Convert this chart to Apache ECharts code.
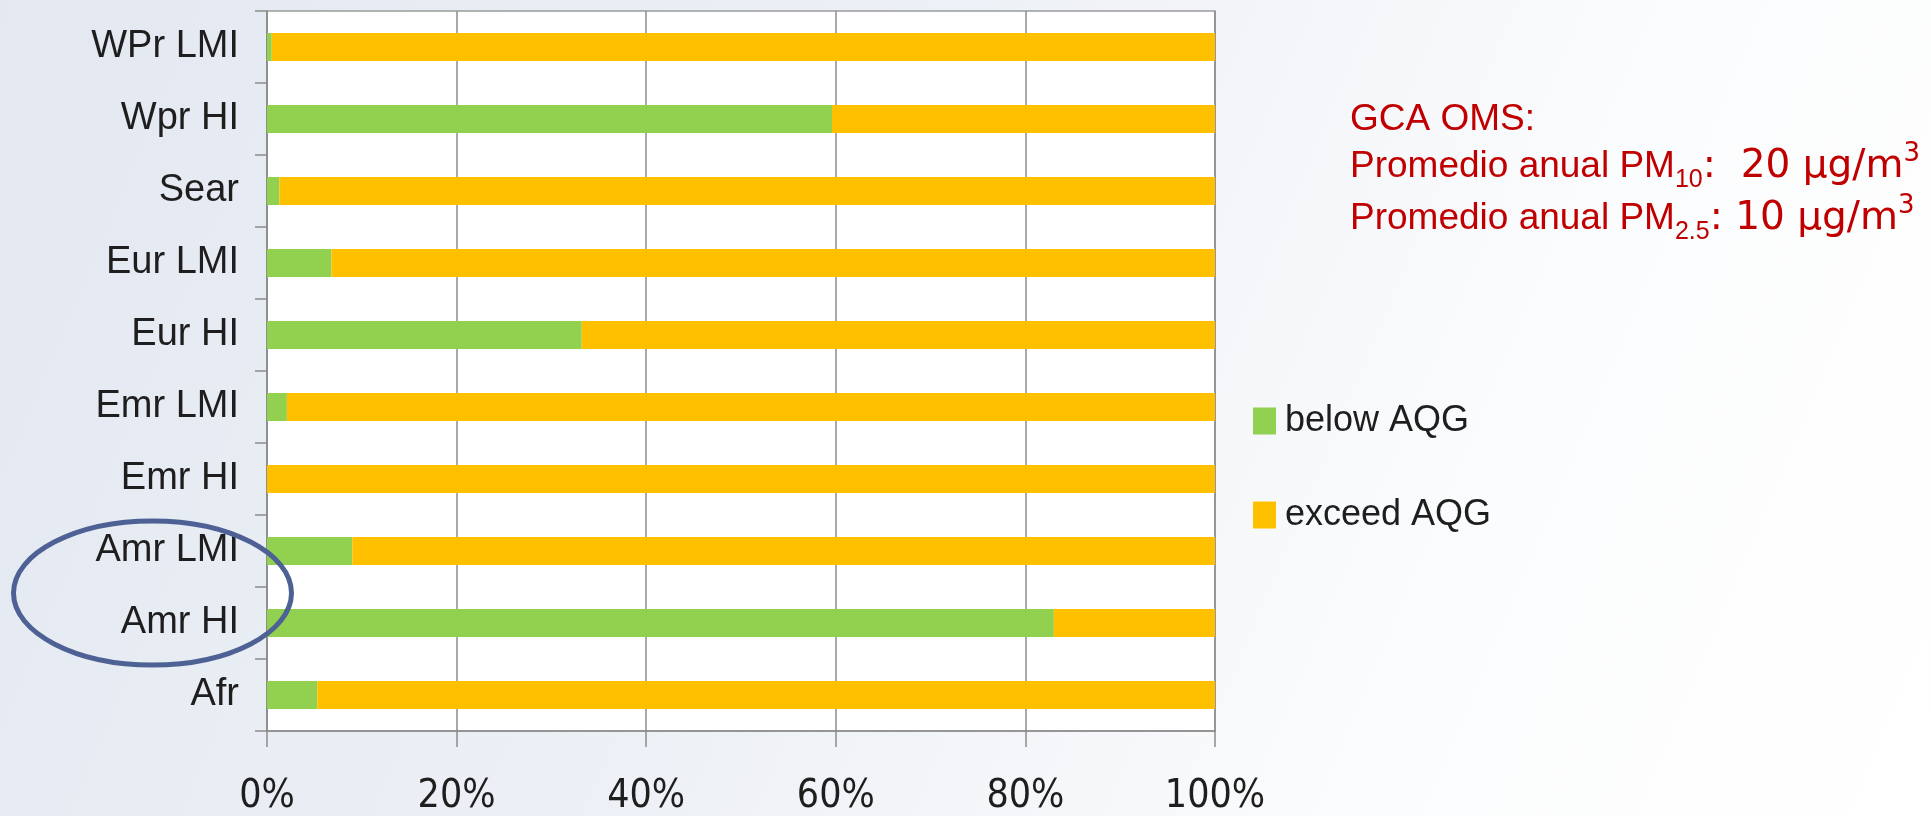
<!DOCTYPE html>
<html>
<head>
<meta charset="utf-8">
<script src="https://cdn.jsdelivr.net/npm/echarts@6/dist/echarts.min.js"></script>
<style>
html,body{margin:0;padding:0;width:1931px;height:816px;overflow:hidden;background:#fff;}
#chart{width:1931px;height:816px;}
</style>
</head>
<body>
<div id="chart"></div>
<script>
// Data (percent of population)
const categories = ['WPr LMI', 'Wpr HI', 'Sear', 'Eur LMI', 'Eur HI', 'Emr LMI', 'Emr HI', 'Amr LMI', 'Amr HI', 'Afr'];
const belowAQG  = [0.5, 59.6, 1.3, 6.8, 33.2, 2.1, 0, 9.0, 83.0, 5.3];
const exceedAQG = [99.5, 40.4, 98.7, 93.2, 66.8, 97.9, 100, 91.0, 17.0, 94.7];
const seriesNames = ['below AQG', 'exceed AQG'];
const xTicks = [0, 20, 40, 60, 80, 100];

const chart = echarts.init(document.getElementById('chart'));
const labelFont = 'Liberation Sans, Arial, sans-serif';
const condFont = '"DejaVu Sans Condensed", "Liberation Sans", sans-serif';
const tailFont = '"DejaVu Sans", sans-serif';
const gridColor = '#8c8c8c';
const red = '#c00000';

const richRed = {
  m: {fontSize: 37, fontFamily: labelFont, fill: red, lineHeight: 52},
  t: {fontSize: 39, fontFamily: tailFont, fill: red, lineHeight: 52},
  sub: {fontSize: 25, fontFamily: labelFont, fill: red, lineHeight: 16, verticalAlign: 'bottom'},
  sup: {fontSize: 26, fontFamily: tailFont, fill: red, lineHeight: 30, verticalAlign: 'top'}
};

const option = {
  animation: false,
  graphic: [
    {
      type: 'rect', z: -10, silent: true,
      shape: {x: 0, y: 0, width: 1931, height: 816},
      style: {
        fill: new echarts.graphic.LinearGradient(0, 0, 1, 1, [
          {offset: 0, color: '#e3e8f1'},
          {offset: 0.45, color: '#eef1f6'},
          {offset: 0.75, color: '#fbfcfd'},
          {offset: 1, color: '#ffffff'}
        ])
      }
    },
    {
      type: 'ellipse', z: 100, silent: true,
      shape: {cx: 152.5, cy: 593, rx: 139, ry: 72},
      style: {fill: 'none', stroke: '#4d6194', lineWidth: 5}
    },
    {
      type: 'text', z: 100, left: 1350, top: 94,
      style: {
        text: 'GCA OMS:',
        fill: red, fontFamily: labelFont, fontSize: 37, lineHeight: 52
      }
    },
    {
      type: 'text', z: 100, left: 1350, top: 141,
      style: {
        text: '{m|Promedio anual PM}{sub|10}{t|:  20 μg/m}{sup|3}\n{m|Promedio anual PM}{sub|2.5}{t|: 10 μg/m}{sup|3}',
        fill: red, fontFamily: labelFont, fontSize: 37, lineHeight: 52,
        rich: richRed
      }
    }
  ],
  legend: {
    orient: 'vertical',
    left: 1248,
    top: 398,
    itemWidth: 23,
    itemHeight: 27,
    itemGap: 58,
    icon: 'rect',
    data: seriesNames,
    textStyle: {fontFamily: labelFont, fontSize: 36, color: '#1e1e1e', padding: [0, 0, 0, 4]}
  },
  grid: {
    left: 267, right: 716, top: 11, bottom: 73,
    show: true, backgroundColor: '#ffffff', borderColor: '#9a9a9a', borderWidth: 1.5,
    containLabel: false
  },
  xAxis: {
    type: 'value',
    min: 0, max: 100, interval: 20,
    axisLine: {show: true, lineStyle: {color: gridColor, width: 1.5}},
    axisTick: {show: true, length: 16, lineStyle: {color: gridColor, width: 1.5}},
    splitLine: {show: true, lineStyle: {color: gridColor, width: 1.5}},
    axisLabel: {
      margin: 46,
      fontFamily: condFont, fontSize: 39, color: '#1e1e1e',
      formatter: function (v) { return xTicks.indexOf(v) >= 0 ? v + '%' : ''; }
    }
  },
  yAxis: {
    type: 'category',
    inverse: true,
    data: categories,
    axisLine: {show: true, lineStyle: {color: gridColor, width: 1.5}},
    axisTick: {show: true, length: 12, lineStyle: {color: gridColor, width: 1.5}},
    splitLine: {show: false},
    axisLabel: {margin: 28, fontFamily: labelFont, fontSize: 38, color: '#1e1e1e'}
  },
  series: [
    {
      name: seriesNames[0], type: 'bar', stack: 'total', barWidth: 28,
      itemStyle: {color: '#92d050'},
      data: belowAQG
    },
    {
      name: seriesNames[1], type: 'bar', stack: 'total', barWidth: 28,
      itemStyle: {color: '#ffc000'},
      data: exceedAQG
    }
  ]
};
chart.setOption(option);
</script>
</body>
</html>
